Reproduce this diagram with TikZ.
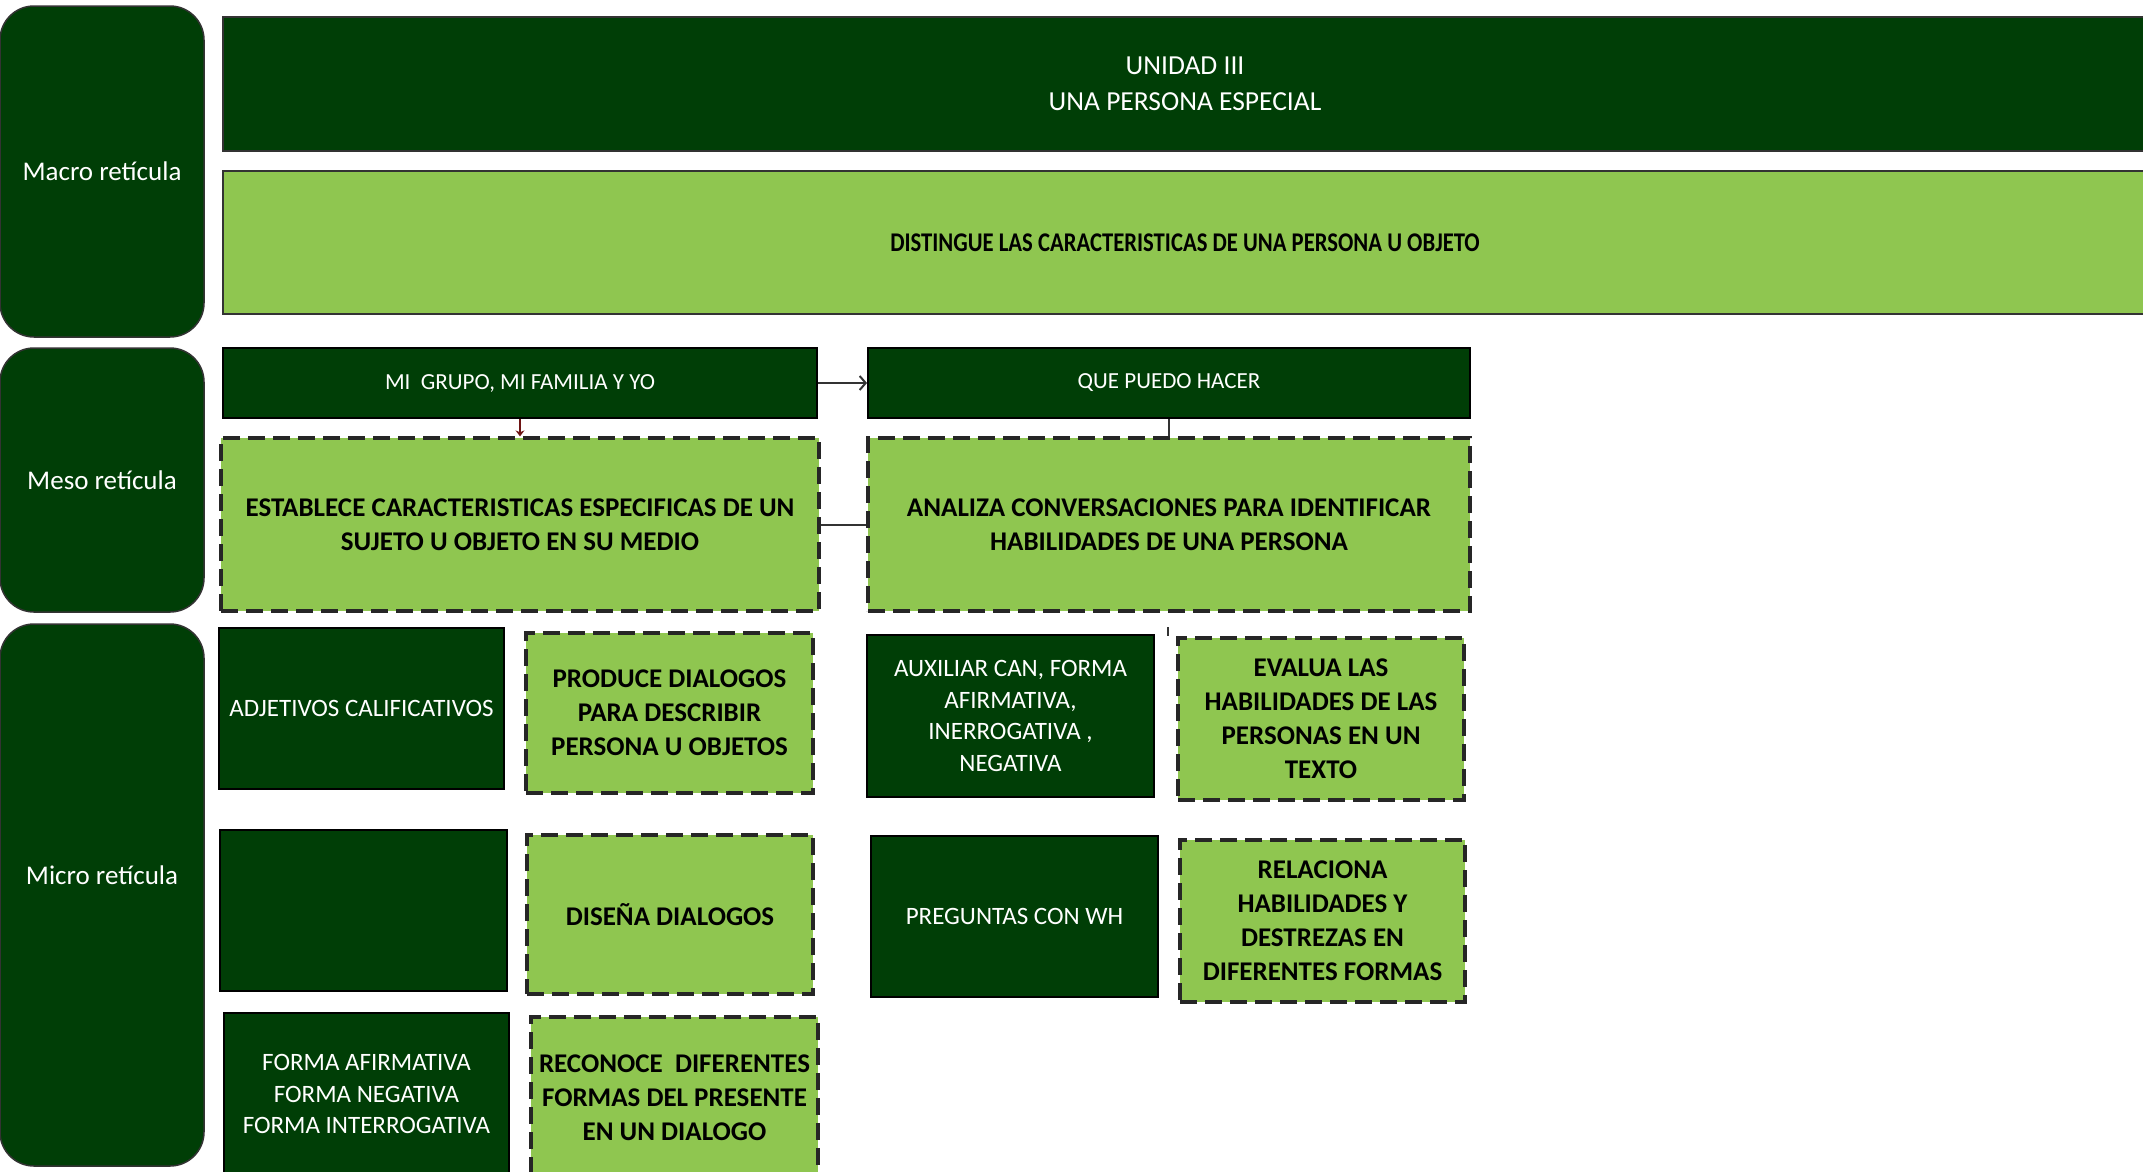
\documentclass[tikz,border=0pt]{standalone}
\usepackage{fontspec}
\setmainfont{Carlito}
\usepackage{tikz}
\usetikzlibrary{
  arrows,
  arrows.meta,
  calc
}

\definecolor{verdeosc}{RGB}{0,62,6}
\definecolor{verdecla}{RGB}{143,198,80}
\definecolor{rojo}{RGB}{110,20,20}

\begin{document}
\begin{tikzpicture}[x=1pt, y=-1pt,
  lado/.style={draw=black!80, line width=1.5pt, fill=verdeosc, rounded corners=34pt, text=white, inner sep=0pt, font=\fontsize{27}{33}\selectfont},
  oscuro/.style={draw=black, line width=2pt, fill=verdeosc, text=white, align=center, inner sep=0pt, font=\fontsize{25}{31.5}\selectfont},
  claro/.style={draw=black!85, line width=3.3pt, dash pattern=on 17pt off 8pt, fill=verdecla, align=center, inner sep=0pt, font=\bfseries\fontsize{27}{34}\selectfont},
  linea/.style={line width=2pt, black!80}
]
\useasboundingbox (0,0) rectangle (2143,1171);

% reticulas
\node[lado, minimum width=204pt, minimum height=331pt] (macro) at (102,171.5) {Macro retícula};
\node[lado, minimum width=204pt, minimum height=264pt] (meso) at (102,480) {Meso retícula};
\node[lado, minimum width=204pt, minimum height=542pt] (micro) at (102,895) {};
\node[text=white, font=\fontsize{27}{33}\selectfont] (microtxt) at ($(micro)+(0,-20)$) {Micro retícula};

% macro
\node[oscuro, draw=black!80, minimum width=1924pt, minimum height=134pt, font=\fontsize{27.5}{35.5}\selectfont] (unidad) at (1185,84) {UNIDAD III\\UNA PERSONA ESPECIAL};
\node[oscuro, draw=black!80, fill=verdecla, text=black, minimum width=1924pt, minimum height=143pt, font=\bfseries\fontsize{27}{33}\selectfont] (distingue) at (1185,242.5) {\scalebox{0.84}[1]{DISTINGUE LAS CARACTERISTICAS DE UNA PERSONA U OBJETO}};

% meso
\node[oscuro, minimum width=594pt, minimum height=70pt, font=\fontsize{23}{28}\selectfont] (grupo) at (520,383) {MI\ \ GRUPO, MI FAMILIA Y YO};
\node[oscuro, minimum width=602pt, minimum height=70pt, font=\fontsize{23}{28}\selectfont] (puedo) at (1169,383) {QUE PUEDO HACER};
\node[claro, minimum width=598pt, minimum height=173pt] (establece) at (520,524.5) {ESTABLECE CARACTERISTICAS ESPECIFICAS DE UN\\SUJETO U OBJETO EN SU MEDIO};
\node[claro, minimum width=602pt, minimum height=173pt] (analiza) at (1169,524.5) {ANALIZA CONVERSACIONES PARA IDENTIFICAR\\HABILIDADES DE UNA PERSONA};

\draw[linea, -{Straight Barb[length=6pt,width=14pt]}] (grupo.east) -- (puedo.west);
\draw[rojo, line width=2.5pt, -{Stealth[length=6pt,width=9pt]}] (grupo.south) -- (establece.north);
\draw[linea] (puedo.south) -- (analiza.north);
\draw[linea] (establece.east) -- (analiza.west);

% micro
\node[oscuro, minimum width=285pt, minimum height=161pt] (adjetivos) at (361.5,708.5) {ADJETIVOS CALIFICATIVOS};
\node[claro, minimum width=287pt, minimum height=160pt] (produce) at (669.5,713) {PRODUCE DIALOGOS\\PARA DESCRIBIR\\PERSONA U OBJETOS};
\node[oscuro, minimum width=287pt, minimum height=161pt] (vacio) at (363.5,910.5) {};
\node[claro, minimum width=286pt, minimum height=159pt] (disena) at (670,914.5) {DISEÑA DIALOGOS};
\node[oscuro, minimum width=285pt, minimum height=162pt] (forma) at (366.5,1094) {FORMA AFIRMATIVA\\FORMA NEGATIVA\\FORMA INTERROGATIVA};
\node[claro, minimum width=287pt, minimum height=161pt] (reconoce) at (674.5,1097.5) {RECONOCE\ \ DIFERENTES\\FORMAS DEL PRESENTE\\EN UN DIALOGO};

\node[oscuro, minimum width=287pt, minimum height=162pt] (auxiliar) at (1010.5,716) {AUXILIAR CAN, FORMA\\AFIRMATIVA,\\INERROGATIVA ,\\NEGATIVA};
\node[claro, minimum width=286pt, minimum height=162pt] (evalua) at (1321,719) {EVALUA LAS\\HABILIDADES DE LAS\\PERSONAS EN UN\\TEXTO};
\node[oscuro, minimum width=287pt, minimum height=161pt] (preguntas) at (1014.5,916.5) {PREGUNTAS CON WH};
\node[claro, minimum width=285pt, minimum height=162pt] (relaciona) at (1322.5,921) {RELACIONA\\HABILIDADES Y\\DESTREZAS EN\\DIFERENTES FORMAS};

\coordinate (marca) at (1168,627);
\draw[linea] (marca) -- ++(0,9);

\end{tikzpicture}
\end{document}
